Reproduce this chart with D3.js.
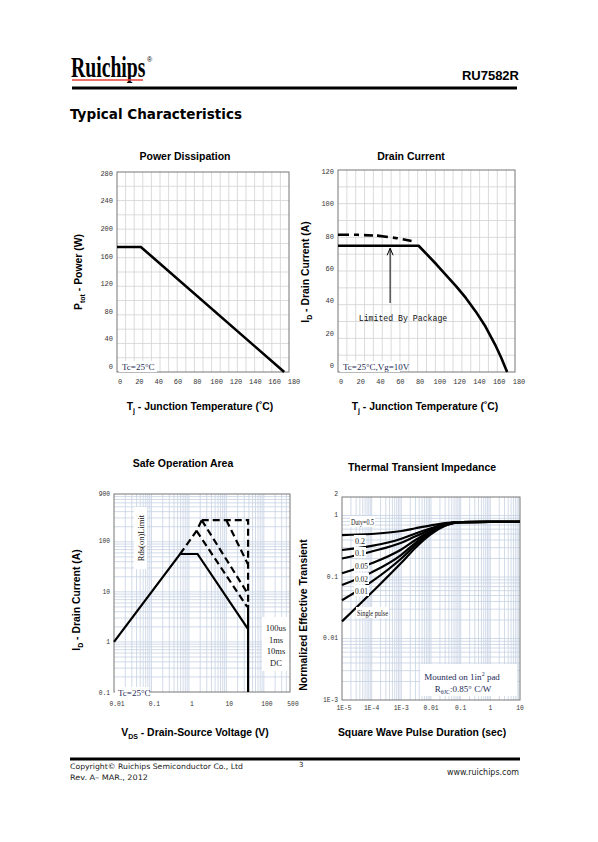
<!DOCTYPE html>
<html><head><meta charset="utf-8">
<script src="https://cdnjs.cloudflare.com/ajax/libs/d3/7.8.5/d3.min.js"></script>
<style>body{margin:0;background:#fff}svg{display:block}</style>
</head><body>
<svg id="c" width="598" height="842"></svg>
<script>
// ---------- DATA ----------
// Power dissipation
const pdTemp = [0, 25, 175];
const pdPower = [175, 175, 0];
const pdXTicks = [0, 20, 40, 60, 80, 100, 120, 140, 160, 180];
const pdYTicks = [0, 40, 80, 120, 160, 200, 240, 280];
// Drain current
const idTemp = [0, 82, 100, 120, 130, 140, 150, 160, 166, 172];
const idCurrent = [75, 75, 64, 51, 44, 36, 27, 16, 8.5, 0];
const idPkgTemp = [0, 20, 40, 60, 78];
const idPkgCurrent = [81.5, 81.5, 81, 79.5, 77.5];
const idXTicks = [0, 20, 40, 60, 80, 100, 120, 140, 160, 180];
const idYTicks = [0, 20, 40, 60, 80, 100, 120];
// Safe operating area
const soaDcV = [0.01, 0.58, 1.7, 38];
const soaDcI = [1, 57, 57, 1.8];
const soaVmaxV = [38, 38];
const soaVmaxI = [5.5, 0.1];
const soaRdsV = [0.58, 1.6, 2.2];
const soaRdsI = [57, 165, 270];
const soa10msV = [1.6, 36];
const soa10msI = [165, 5];
const soa1msV = [2.2, 38];
const soa1msI = [270, 9];
const soa100usV = [10, 38];
const soa100usI = [270, 35];
const soaLimV = [2.2, 38, 38];
const soaLimI = [270, 270, 5.5];
const soaXTicks = [0.01, 0.1, 1, 10, 100, 500];
const soaXLabels = ["0.01", "0.1", "1", "10", "100", "500"];
const soaYTicks = [0.1, 1, 10, 100, 900];
const soaYLabels = ["0.1", "1", "10", "100", "900"];
// Thermal transient impedance
const ztTime = [1e-5, 1e-4, 1e-3, 3e-3, 0.01, 0.03, 0.1, 1, 10];
const ztDuty = ["Duty=0.5", "0.2", "0.1", "0.05", "0.02", "0.01", "Single pulse"];
const ztD05 = [0.48, 0.50, 0.56, 0.62, 0.69, 0.75, 0.78, 0.79, 0.79];
const ztD02 = [0.275, 0.32, 0.42, 0.51, 0.62, 0.73, 0.78, 0.79, 0.79];
const ztD01 = [0.20, 0.26, 0.36, 0.46, 0.59, 0.72, 0.78, 0.79, 0.79];
const ztD005 = [0.115, 0.167, 0.28, 0.40, 0.56, 0.71, 0.78, 0.79, 0.79];
const ztD002 = [0.074, 0.119, 0.23, 0.36, 0.54, 0.70, 0.78, 0.79, 0.79];
const ztD001 = [0.042, 0.084, 0.20, 0.33, 0.52, 0.69, 0.78, 0.79, 0.79];
const ztSingle = [0.019, 0.056, 0.17, 0.30, 0.50, 0.68, 0.78, 0.79, 0.79];
const ztXTicks = [1e-5, 1e-4, 1e-3, 0.01, 0.1, 1, 10];
const ztXLabels = ["1E-5", "1E-4", "1E-3", "0.01", "0.1", "1", "10"];
const ztYTicks = [1e-3, 0.01, 0.1, 1, 2];
const ztYLabels = ["1E-3", "0.01", "0.1", "1", "2"];

// ---------- STYLE ----------
const SANS = "'Liberation Sans', Arial, sans-serif";
const SERIF = "'Liberation Serif', 'Times New Roman', serif";
const MONO = "'Liberation Mono', 'DejaVu Sans Mono', monospace";
const VERD = "'DejaVu Sans', Verdana, sans-serif";

const svg = d3.select("#c");
svg.append("rect").attr("width", 598).attr("height", 842).attr("fill", "#fff");

function txt(g, x, y, s, o) {
  o = o || {};
  const t = g.append("text").attr("x", x).attr("y", y).text(s)
    .attr("font-family", o.font || SANS).attr("font-size", o.size || 10)
    .attr("font-weight", o.weight || "normal").attr("fill", o.fill || "#000")
    .attr("text-anchor", o.anchor || "start");
  if (o.len) t.attr("textLength", o.len).attr("lengthAdjust", "spacingAndGlyphs");
  if (o.rot) t.attr("transform", `rotate(${o.rot},${x},${y})`);
  if (o.base) t.attr("dominant-baseline", o.base);
  if (o.ls) t.attr("letter-spacing", o.ls);
  return t;
}
function subTitle(g, x, y, main, sub, rest, rot) {
  const t = g.append("text").attr("x", x).attr("y", y)
    .attr("font-family", SANS).attr("font-size", 10.4).attr("font-weight", "bold")
    .attr("text-anchor", "middle");
  if (rot) t.attr("transform", `rotate(${rot},${x},${y})`);
  t.append("tspan").text(main);
  if (sub) t.append("tspan").attr("font-size", 7).attr("dy", 2.5).text(sub);
  t.append("tspan").attr("dy", sub ? -2.5 : 0).text(rest);
  return t;
}

// ---------- HEADER ----------
svg.append("text").attr("transform", "translate(71,77) scale(0.68,1)")
  .attr("font-family", SERIF).attr("font-size", 29).attr("font-weight", "bold")
  .attr("fill", "#000").text("Ruichips");
txt(svg, 147, 62, "®", {font: SANS, size: 7});
svg.append("line").attr("x1", 72).attr("x2", 143).attr("y1", 80).attr("y2", 80)
  .attr("stroke", "#e8403a").attr("stroke-width", 1.6);
txt(svg, 519, 80, "RU7582R", {size: 13, weight: "bold", anchor: "end"});
svg.append("line").attr("x1", 72).attr("x2", 517).attr("y1", 88).attr("y2", 88)
  .attr("stroke", "#000").attr("stroke-width", 3);
txt(svg, 70, 119, "Typical Characteristics", {font: VERD, size: 13.5, weight: "bold", len: 172});

// ---------- FOOTER ----------
svg.append("line").attr("x1", 70).attr("x2", 520).attr("y1", 759).attr("y2", 759)
  .attr("stroke", "#000").attr("stroke-width", 3);
txt(svg, 70, 769, "Copyright\u00A9 Ruichips Semiconductor Co., Ltd", {font: VERD, size: 7.5, len: 173, fill: "#222"});
txt(svg, 70, 780, "Rev. A\u2013 MAR., 2012", {font: VERD, size: 7.5, len: 78, fill: "#222"});
txt(svg, 299, 767, "3", {font: VERD, size: 7, fill: "#222"});
txt(svg, 519, 775, "www.ruichips.com", {font: VERD, size: 8.5, anchor: "end", len: 72, fill: "#222"});

const line = (x, y) => d3.line().x(d => x(d[0])).y(d => y(d[1]));
const zip = (a, b) => a.map((v, i) => [v, b[i]]);

function frame(g, x0, x1, y0, y1) {
  g.append("rect").attr("x", x0).attr("y", y0).attr("width", x1 - x0).attr("height", y1 - y0)
    .attr("fill", "none").attr("stroke", "#777").attr("stroke-width", 1);
}
function tcBox(g, x, y, w, s) {
  g.append("rect").attr("x", x).attr("y", y - 9).attr("width", w).attr("height", 11).attr("fill", "#fff");
  txt(g, x + 3, y, s, {font: SERIF, size: 9, fill: "#1c2b55"});
}

// ---------- CHART 1: Power Dissipation ----------
{
  const g = svg.append("g");
  const x = d3.scaleLinear([0, 180], [117, 289]);
  const y = d3.scaleLinear([0, 280], [372, 172]);
  const xl = d3.scaleLinear([0, 180], [120, 294]);
  const yl = d3.scaleLinear([0, 280], [367, 174]);
  d3.range(9, 180, 9).forEach(v => g.append("line").attr("x1", x(v)).attr("x2", x(v))
    .attr("y1", y(0)).attr("y2", y(280)).attr("stroke", "#d2d2d2").attr("stroke-width", 0.8));
  d3.range(20, 280, 20).forEach(v => g.append("line").attr("y1", y(v)).attr("y2", y(v))
    .attr("x1", x(0)).attr("x2", x(180)).attr("stroke", "#d2d2d2").attr("stroke-width", 0.8));
  frame(g, x(0), x(180), y(280), y(0));
  g.append("path").datum(zip(pdTemp, pdPower)).attr("d", line(x, y))
    .attr("fill", "none").attr("stroke", "#000").attr("stroke-width", 2.6);
  tcBox(g, 119, 370, 38, "Tc=25°C");
  pdYTicks.forEach(v => txt(g, 113, yl(v), String(v), {font: MONO, size: 7, anchor: "end", base: "middle", fill: "#333"}));
  pdXTicks.forEach(v => txt(g, xl(v), 384, String(v), {font: MONO, size: 7, anchor: "middle", fill: "#333"}));
  txt(g, 185, 160, "Power Dissipation", {size: 10.5, weight: "bold", anchor: "middle"});
  subTitle(g, 82, 272, "P", "tot", " - Power (W)", -90);
  subTitle(g, 200, 410, "T", "j", " - Junction Temperature (\u02DAC)");
}

// ---------- CHART 2: Drain Current ----------
{
  const g = svg.append("g");
  const x = d3.scaleLinear([0, 180], [338, 515]);
  const y = d3.scaleLinear([0, 120], [372, 170]);
  const xl = d3.scaleLinear([0, 180], [341, 519]);
  const yl = d3.scaleLinear([0, 120], [366, 172]);
  d3.range(9, 180, 9).forEach(v => g.append("line").attr("x1", x(v)).attr("x2", x(v))
    .attr("y1", y(0)).attr("y2", y(120)).attr("stroke", "#d2d2d2").attr("stroke-width", 0.8));
  d3.range(10, 120, 10).forEach(v => g.append("line").attr("y1", y(v)).attr("y2", y(v))
    .attr("x1", x(0)).attr("x2", x(180)).attr("stroke", "#d2d2d2").attr("stroke-width", 0.8));
  frame(g, x(0), x(180), y(120), y(0));
  g.append("path").datum(zip(idTemp, idCurrent)).attr("d", line(x, y))
    .attr("fill", "none").attr("stroke", "#000").attr("stroke-width", 2.6).attr("stroke-linejoin", "round");
  g.append("path").datum(zip(idPkgTemp, idPkgCurrent)).attr("d", line(x, y))
    .attr("fill", "none").attr("stroke", "#000").attr("stroke-width", 2.6)
    .attr("stroke-dasharray", "11,5,5,5,9,4");
  // arrow
  const ax = x(53);
  g.append("line").attr("x1", ax).attr("x2", ax).attr("y1", y(41)).attr("y2", y(73.5))
    .attr("stroke", "#000").attr("stroke-width", 1);
  g.append("path").attr("d", `M${ax - 3},${y(73.5) + 7}L${ax},${y(73.5)}L${ax + 3},${y(73.5) + 7}`)
    .attr("fill", "none").attr("stroke", "#000").attr("stroke-width", 1);
  txt(g, 403, 321, "Limited By Package", {font: MONO, size: 8.2, anchor: "middle", fill: "#111"});
  tcBox(g, 340, 370, 60, "Tc=25°C,Vg=10V");
  idYTicks.forEach(v => txt(g, 334, yl(v), String(v), {font: MONO, size: 7, anchor: "end", base: "middle", fill: "#333"}));
  idXTicks.forEach(v => txt(g, xl(v), 384, String(v), {font: MONO, size: 7, anchor: "middle", fill: "#333"}));
  txt(g, 411, 160, "Drain Current", {size: 10.5, weight: "bold", anchor: "middle"});
  subTitle(g, 309, 272, "I", "D", " - Drain Current (A)", -90);
  subTitle(g, 425, 410, "T", "j", " - Junction Temperature (\u02DAC)");
}

function logVals(lo, hi) {
  const out = [];
  for (let e = Math.floor(Math.log10(lo)); e <= Math.ceil(Math.log10(hi)); e++)
    for (let k = 1; k < 10; k++) {
      const v = k * Math.pow(10, e);
      if (v > lo * 1.0001 && v < hi * 0.9999) out.push(v);
    }
  return out;
}
function logGrid(g, x, y) {
  const [xa, xb] = x.domain(), [ya, yb] = y.domain();
  logVals(xa, xb).forEach(v => g.append("line").attr("x1", x(v)).attr("x2", x(v))
    .attr("y1", y(ya)).attr("y2", y(yb)).attr("stroke", "#c6d2e3").attr("stroke-width", 0.8));
  logVals(ya, yb).forEach(v => g.append("line").attr("y1", y(v)).attr("y2", y(v))
    .attr("x1", x(xa)).attr("x2", x(xb)).attr("stroke", "#c6d2e3").attr("stroke-width", 0.8));
}

// ---------- CHART 3: SOA ----------
{
  const g = svg.append("g");
  const x = d3.scaleLog([0.01, 500], [114, 290]);
  const y = d3.scaleLog([0.1, 900], [692, 494]);
  logGrid(g, x, y);
  frame(g, 114, 290, 494, 692);
  const L = line(x, y);
  const solid = (a, b) => g.append("path").datum(zip(a, b)).attr("d", L)
    .attr("fill", "none").attr("stroke", "#000").attr("stroke-width", 2.2);
  const dash = (a, b) => g.append("path").datum(zip(a, b)).attr("d", L)
    .attr("fill", "none").attr("stroke", "#000").attr("stroke-width", 2.2).attr("stroke-dasharray", "7,4");
  dash(soaRdsV, soaRdsI);
  dash(soa10msV, soa10msI);
  dash(soa1msV, soa1msI);
  dash(soa100usV, soa100usI);
  dash(soaLimV, soaLimI);
  solid(soaDcV, soaDcI);
  solid(soaVmaxV, soaVmaxI);
  // Rds(on) Limit label
  g.append("rect").attr("x", 134).attr("y", 507).attr("width", 13).attr("height", 62).attr("fill", "#fff");
  txt(g, 144, 538, "Rds(on)Limit", {font: SERIF, size: 8.5, anchor: "middle", rot: -90, fill: "#111"});
  // pulse legend box
  g.append("rect").attr("x", 262).attr("y", 617).attr("width", 27).attr("height", 54).attr("fill", "#fff");
  ["100us", "1ms", "10ms", "DC"].forEach((s, i) =>
    txt(g, 276, 631 + i * 11.5, s, {font: SERIF, size: 8.5, anchor: "middle", fill: "#222"}));
  tcBox(g, 115, 696, 34, "Tc=25°C");
  soaYTicks.forEach((v, i) => txt(g, 110, y(v) + (i === 0 ? 1 : 0), soaYLabels[i], {font: MONO, size: 6.3, anchor: "end", base: "middle", fill: "#333"}));
  soaXTicks.forEach((v, i) => txt(g, x(v) + 3, 706, soaXLabels[i], {font: MONO, size: 6.3, anchor: "middle", fill: "#333"}));
  txt(g, 183, 467, "Safe Operation Area", {size: 10.5, weight: "bold", anchor: "middle"});
  subTitle(g, 80, 600, "I", "D", " - Drain Current (A)", -90);
  subTitle(g, 195, 736, "V", "DS", " - Drain-Source Voltage (V)");
}

// ---------- CHART 4: Thermal impedance ----------
{
  const g = svg.append("g");
  const x = d3.scaleLog([1e-5, 10], [342, 520]);
  const y = d3.scaleLog([1e-3, 2], [700, 497]);
  logGrid(g, x, y);
  frame(g, 342, 520, 497, 700);
  const L = line(x, y).curve(d3.curveMonotoneX);
  const series = [ztD05, ztD02, ztD01, ztD005, ztD002, ztD001, ztSingle];
  series.forEach(s => g.append("path").datum(zip(ztTime, s)).attr("d", L)
    .attr("fill", "none").attr("stroke", "#000").attr("stroke-width", 2.2));
  const labY = [522, 541, 553, 566, 579, 591, 613];
  const labX = [351, 355, 355, 355, 355, 355, 357];
  const labW = [25, 12, 12, 15, 15, 15, 33];
  ztDuty.forEach((s, i) => {
    g.append("rect").attr("x", labX[i] - 1).attr("y", labY[i] - 6).attr("width", labW[i]).attr("height", 11).attr("fill", "#fff");
    txt(g, labX[i], labY[i] + 3, s, {font: SERIF, size: 8, fill: "#222", len: labW[i] - 2});
  });
  g.append("rect").attr("x", 420).attr("y", 664).attr("width", 97).attr("height", 32).attr("fill", "#fff");
  const t1 = g.append("text").attr("x", 462).attr("y", 680).attr("text-anchor", "middle")
    .attr("font-family", SERIF).attr("font-size", 9).attr("fill", "#1c2b55");
  t1.append("tspan").text("Mounted on 1in");
  t1.append("tspan").attr("font-size", 6).attr("dy", -4).text("2");
  t1.append("tspan").attr("dy", 4).text(" pad");
  const t2 = g.append("text").attr("x", 463).attr("y", 692).attr("text-anchor", "middle")
    .attr("font-family", SERIF).attr("font-size", 9).attr("fill", "#1c2b55");
  t2.append("tspan").text("R");
  t2.append("tspan").attr("font-size", 6).attr("dy", 2).text("\u03B8JC");
  t2.append("tspan").attr("dy", -2).text(":0.85\u00B0  C/W");
  ztYTicks.forEach((v, i) => txt(g, 338, y(v) + (i === 4 ? -3 : 0), ztYLabels[i], {font: MONO, size: 6.3, anchor: "end", base: "middle", fill: "#333"}));
  ztXTicks.forEach((v, i) => txt(g, x(v) + (i === 0 ? 2 : 0), 710, ztXLabels[i], {font: MONO, size: 6.3, anchor: "middle", fill: "#333"}));
  txt(g, 422, 471, "Thermal Transient Impedance", {size: 10.5, weight: "bold", anchor: "middle"});
  subTitle(g, 307, 615, "Normalized Effective Transient", null, "", -90);
  subTitle(g, 422, 736, "Square Wave Pulse Duration (sec)", null, "");
}
</script>
</body></html>
